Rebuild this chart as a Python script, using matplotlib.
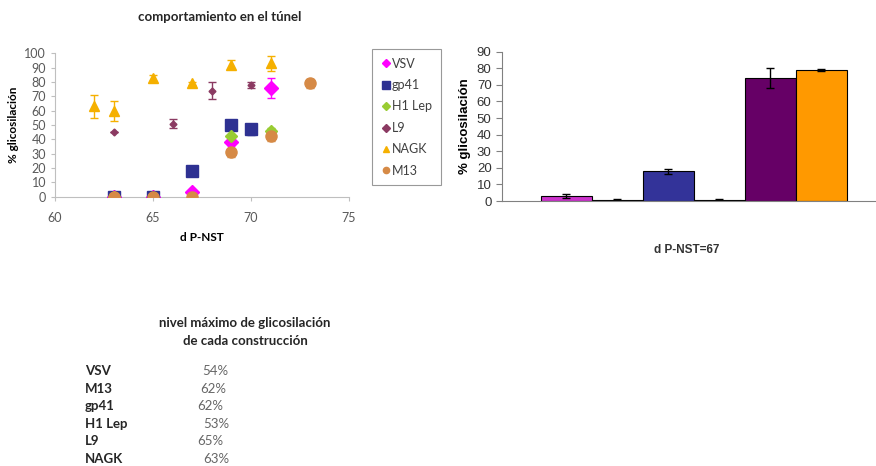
import numpy as np
import matplotlib
matplotlib.use("Agg")
import matplotlib.pyplot as plt

# scatter data: (x, y, err)
vsv_x = [63, 65, 67, 69, 71]
vsv_y = [0, 0, 3, 38, 76]
vsv_e = [0, 0, 1, 2, 7]

gp41_x = [63, 65, 67, 69, 70]
gp41_y = [0, 0, 18, 50, 47]
gp41_e = [0, 0, 1, 1, 4]

h1_x = [63, 69, 71]
h1_y = [0, 42, 46]
h1_e = [0, 1, 2]

l9_x = [63, 66, 68, 70]
l9_y = [45, 51, 74, 78]
l9_e = [0, 3, 6, 2]

nagk_x = [62, 63, 65, 67, 69, 71]
nagk_y = [63, 60, 83, 79, 92, 93]
nagk_e = [8, 7, 2, 1, 3, 5]

m13_x = [63, 65, 67, 69, 71, 73]
m13_y = [0, 0, 0, 31, 42, 79]
m13_e = [0, 0, 0, 3, 3, 3]

# bar data at d P-NST = 67
bar_vals = [3, 0.8, 18, 0.8, 74, 79]
bar_errs = [1, 0.5, 1.5, 0.5, 6, 0.8]
bar_colors = ["#CC33CC", "#99CC33", "#333399", "#D68A46", "#660066", "#FF9900"]

# table
tab_names = ["VSV", "M13", "gp41", "H1 Lep", "L9", "NAGK"]
tab_vals = ["54%", "62%", "62%", "53%", "65%", "63%"]

fig = plt.figure(figsize=(8.76, 4.66), dpi=100)
cal = "Lato"
gray = "#595959"

# ---- scatter
ax = fig.add_axes([55/876, 1-196.7/466, 294/876, 143.4/466])
series = [
    ("VSV", vsv_x, vsv_y, vsv_e, "D", "#FF00FF", 7.5),
    ("gp41", gp41_x, gp41_y, gp41_e, "s", "#2E3192", 8),
    ("H1 Lep", h1_x, h1_y, h1_e, "D", "#99CC33", 6.5),
    ("L9", l9_x, l9_y, l9_e, "D", "#8B3A62", 3.5),
    ("NAGK", nagk_x, nagk_y, nagk_e, "^", "#F5B000", 6.5),
    ("M13", m13_x, m13_y, m13_e, "o", "#D68A46", 8),
]
for name, x, y, e, mk, col, ms in series:
    ax.errorbar(x, y, yerr=e, fmt="none", ecolor=col, elinewidth=1, capsize=3, zorder=2)
    ax.plot(x, y, mk, color=col, ms=ms, mec=col, ls="none", zorder=3)
ax.set_xlim(60, 75)
ax.set_ylim(0, 100)
ax.set_xticks([60, 65, 70, 75])
ax.set_yticks(range(0, 101, 10))
for s in ["top", "right"]:
    ax.spines[s].set_visible(False)
for s in ["left", "bottom"]:
    ax.spines[s].set_color("#BFBFBF")
ax.tick_params(colors="#BFBFBF", labelcolor=gray, labelsize=9, length=3)
ax.tick_params(axis="x", pad=8)
for t in ax.get_xticklabels() + ax.get_yticklabels():
    t.set_family(cal)
ax.set_xlabel("d P-NST", family=cal, fontweight="bold", fontsize=8.5, labelpad=6)
ax.set_ylabel("% glicosilación", family=cal, fontweight="bold", fontsize=8.5, labelpad=4)
fig.text(220/876, 1-17/466, "comportamiento en el túnel", family=cal, fontweight="bold",
         fontsize=9.5, ha="center", va="center", color="#262626")

leg_handles = []
for name, x, y, e, mk, col, ms in series:
    h, = ax.plot([], [], mk, color=col, ms=4.5 if mk != "s" else 5.5, ls="none", label=name)
    leg_handles.append(h)
leg = ax.legend(handles=leg_handles, loc="upper left", bbox_to_anchor=(372/876, 1-49/466),
                bbox_transform=fig.transFigure, borderaxespad=0, frameon=True, fancybox=False,
                prop={"family": cal, "size": 9}, handletextpad=0.1, handlelength=0.8,
                labelspacing=0.75, borderpad=0.7, labelcolor="#404040")
leg.get_frame().set_edgecolor("#808080")
leg.get_frame().set_linewidth(0.8)

# ---- bars
bx = fig.add_axes([502/876, 1-201/466, 374/876, 149.3/466])
pos = np.arange(len(bar_vals))
bx.bar(pos, bar_vals, width=1.0, color=bar_colors, edgecolor="black", linewidth=0.8,
       yerr=bar_errs, capsize=3, error_kw={"elinewidth": 1, "ecolor": "black"})
bx.set_xlim(-1.26, 6.07)
bx.set_ylim(0, 90)
bx.set_yticks(range(0, 91, 10))
bx.set_xticks([])
for s in ["top", "right"]:
    bx.spines[s].set_visible(False)
bx.spines["left"].set_color("#808080")
bx.spines["bottom"].set_color("#808080")
bx.tick_params(axis="y", colors="#808080", labelcolor="#333333", labelsize=9.5, length=4)
for t in bx.get_yticklabels():
    t.set_family("Liberation Sans")
bx.set_ylabel("% glicosilación", family="Liberation Sans", fontweight="bold", fontsize=9.5, labelpad=4)
fig.text(687/876, 1-250/466, "d P-NST=67", family="Liberation Sans", fontweight="bold",
         fontsize=8.5, ha="center", va="center", color="#333333")

# ---- table text
fig.text(245/876, 1-323/466, "nivel máximo de glicosilación", family=cal, fontweight="bold",
         fontsize=9.5, ha="center", va="center", color="#262626")
fig.text(245/876, 1-341/466, "de cada construcción", family=cal, fontweight="bold",
         fontsize=9.5, ha="center", va="center", color="#262626")
val_x = [202, 200, 197, 203, 197, 203]
for i, (n, v) in enumerate(zip(tab_names, tab_vals)):
    yy = 1 - (371 + i*17.6)/466
    fig.text(85/876, yy, n, family=cal, fontweight="bold", fontsize=9.5, va="center", color="#262626")
    fig.text(val_x[i]/876, yy, v, family=cal, fontsize=9.5, va="center", color="#666666")

fig.savefig("out.png", dpi=100)
